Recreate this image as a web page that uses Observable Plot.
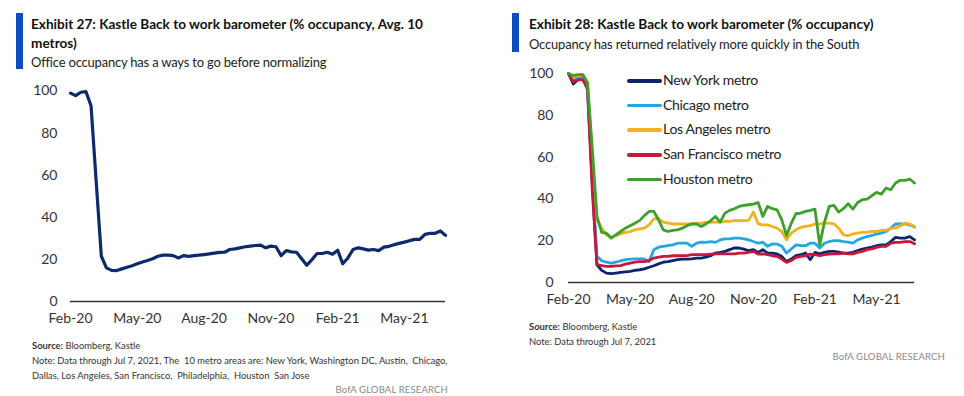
<!DOCTYPE html>
<html>
<head>
<meta charset="utf-8">
<script src="https://cdn.jsdelivr.net/npm/d3@7"></script>
<script src="https://cdn.jsdelivr.net/npm/@observablehq/plot@0.6"></script>
<style>
  html, body { margin: 0; padding: 0; background: #fff; }
  #page { position: relative; width: 964px; height: 396px; overflow: hidden; font-family: Lato, "Open Sans", sans-serif; color: #222; }
  .panel { position: absolute; top: 0; width: 482px; height: 396px; }
  .bar { position: absolute; width: 7px; background: #0b4fbf; }
  .title { position: absolute; font-weight: 700; font-size: 13.6px; line-height: 19px; color: #111; letter-spacing: 0px; }
  .sub { position: absolute; font-size: 13px; line-height: 18px; color: #222; letter-spacing: -0.2px; }
  .plot { position: absolute; }
  .foot { position: absolute; font-size: 9.4px; line-height: 15px; color: #333; }
  .brand { position: absolute; font-size: 9.6px; color: #8a8a8a; letter-spacing: 0.1px; }
  .legend { position: absolute; font-size: 14px; color: #222; }
  .legend .row { position: absolute; left: 0; height: 20px; white-space: nowrap; }
  .legend .sw { position: absolute; left: 0; top: 8px; width: 35px; height: 3.5px; border-radius: 2px; }
  .legend .lb { position: absolute; left: 36px; top: 0; letter-spacing: -0.3px; }
</style>
</head>
<body>
<div id="page">
  <div class="panel" id="p1" style="left:0">
    <div class="bar" style="left:16px; top:13px; height:56px"></div>
    <div class="title" style="left:31px; top:15px; width:400px">Exhibit 27: Kastle Back to work barometer (% occupancy, Avg. 10 metros)</div>
    <div class="sub" style="left:31px; top:53px">Office occupancy has a ways to go before normalizing</div>
    <div class="plot" id="plot1" style="left:0; top:75px"></div>
    <div class="foot" style="left:32px; top:338px; width:430px"><b>Source:</b> Bloomberg, Kastle<br>Note: Data through Jul 7, 2021, The&nbsp; 10 metro areas are: New York, Washington DC, Austin,&nbsp; Chicago, Dallas, Los Angeles, San Francisco,&nbsp; Philadelphia,&nbsp; Houston&nbsp; San Jose</div>
    <div class="brand" style="right:34px; top:384px">BofA GLOBAL RESEARCH</div>
  </div>
  <div class="panel" id="p2" style="left:482px">
    <div class="bar" style="left:30px; top:13px; height:39px"></div>
    <div class="title" style="left:47px; top:15px">Exhibit 28: Kastle Back to work barometer (% occupancy)</div>
    <div class="sub" style="left:47px; top:35px">Occupancy has returned relatively more quickly in the South</div>
    <div class="plot" id="plot2" style="left:0; top:55px"></div>
    <div class="legend" id="legend" style="left:145px; top:71px"></div>
    <div class="foot" style="left:47px; top:319px"><b>Source:</b> Bloomberg, Kastle<br>Note: Data through Jul 7, 2021</div>
    <div class="brand" style="right:19px; top:351px">BofA GLOBAL RESEARCH</div>
  </div>
</div>
<script>
// ---- Data (weekly readings, Feb 12 2020 – Jul 7 2021) ----
const startDate = "2020-02-12";
const nWeeks = 74;

const tickDates = ["2020-02-12", "2020-05-13", "2020-08-12", "2020-11-11", "2021-02-10", "2021-05-12"];
const tickLabels = ["Feb-20", "May-20", "Aug-20", "Nov-20", "Feb-21", "May-21"];
const yTicks = [0, 20, 40, 60, 80, 100];

const avg10 = [99, 97.8, 99.4, 99.7, 93, 57, 21.5, 16, 14.8, 14.7,
  15.5, 16.3, 17, 17.9, 18.8, 19.5, 20.3, 21.5, 22, 22,
  21.8, 20.7, 21.8, 21.4, 21.8, 22, 22.3, 22.6, 23, 23.3,
  23.4, 24.7, 25, 25.5, 26, 26.3, 26.6, 26.8, 25.5, 26.3,
  26, 21.8, 24.2, 23.6, 23.4, 20.3, 17.2, 19.9, 22.8, 22.8,
  23.4, 22.5, 24.4, 17.9, 20.7, 24.7, 25.5, 25, 24.4, 24.7,
  24.2, 25.8, 26.2, 27, 27.6, 28.2, 28.9, 29.5, 29.5, 31.9,
  32.4, 32.4, 33.5, 31.4];

const seriesNames = ["New York metro", "Chicago metro", "Los Angeles metro", "San Francisco metro", "Houston metro"];
const seriesColors = ["#0c246b", "#23a7e3", "#f2b120", "#c8173c", "#3ba12a"];

const newYork = [100, 95, 97, 98, 95, 48, 8.5, 5.8, 4.5, 4.2,
  4.5, 4.8, 5.1, 5.3, 5.8, 6.1, 6.5, 7.3, 8, 8.9,
  9.7, 10, 10.5, 10.9, 11.2, 11.2, 11.3, 11.7, 11.7, 12.1,
  12.8, 14.1, 14.4, 14.9, 15.7, 16.5, 16.5, 16, 15.2, 15.7,
  14.4, 15.7, 14.1, 14.1, 13.7, 12.5, 10, 11.2, 12.9, 13.3,
  14.1, 10.9, 14.4, 13.7, 14.4, 14.9, 14.9, 14.5, 14.1, 14.1,
  14.4, 15.3, 16, 16.5, 16.9, 17.6, 18, 18, 19.6, 21.6,
  21.2, 21.2, 22, 20.4];

const chicago = [100, 97, 98, 98, 92, 50, 12.5, 10.4, 9.7, 9.3,
  9.7, 10.4, 10.9, 11.2, 11.3, 11.3, 11.3, 10, 15.7, 16.9,
  17.3, 17.7, 18, 18.8, 18.8, 18.8, 17.3, 18.8, 19.3, 19.2,
  19.6, 19.2, 20.4, 20.9, 20.9, 21.2, 21.2, 20.9, 20.4, 19.6,
  18.8, 19.2, 17.3, 18.5, 18.4, 17.3, 14.1, 16, 18, 17.7,
  17.6, 18.8, 18.8, 16.5, 18.8, 19.6, 20, 20, 19.6, 19.3,
  18.8, 20.4, 21.2, 22, 22.5, 23.2, 23.6, 24.4, 26, 28,
  28, 28, 27.6, 26.5];

const losAngeles = [100, 98, 99, 99.5, 96, 58, 30, 26, 22.8, 21.7,
  22.4, 23.3, 24, 24.4, 25.2, 25.6, 26, 27.6, 30.4, 30.4,
  28.9, 28.4, 28, 28, 28, 28, 28.1, 28.4, 28.4, 28.8,
  28.8, 28.9, 28.9, 29.2, 29.2, 29.6, 29.6, 29.6, 29.7, 33.7,
  28.1, 27.6, 27.6, 26.8, 26, 24.4, 20.4, 23.6, 25.2, 26.4,
  26.8, 27.2, 28, 28, 28.4, 28.4, 28.1, 26, 22.8, 22.4,
  23.3, 23.6, 24, 24.1, 24.4, 24.4, 24.9, 24.9, 26, 26,
  27.2, 28.4, 28, 26.8];

const sanFrancisco = [100, 96, 97, 97, 93, 45, 8.5, 8.1, 7.7, 7.7,
  8, 8.1, 8.8, 9.3, 9.7, 10, 10, 10.5, 11.7, 12.1,
  12.5, 12.5, 12.8, 12.8, 12.9, 12.9, 13.3, 13.3, 13.3, 13.3,
  13.6, 13.7, 13.7, 13.7, 13.7, 13.7, 14.1, 14.1, 14.4, 14.9,
  13.6, 13.7, 13.3, 12.8, 12.5, 11.2, 9.6, 10.5, 12, 12.5,
  12.8, 13.6, 13.3, 12.8, 13.3, 13.6, 13.7, 13.7, 14.1, 13.7,
  13.7, 14.4, 14.9, 15.7, 16.1, 16.8, 17.3, 17.3, 18.8, 19.2,
  19.2, 19.6, 19.6, 18.5];

const houston = [100, 99, 99.5, 99.5, 95.5, 65, 31.6, 24, 23.6, 21.2,
  22.8, 24.4, 26, 27.2, 28.4, 29.6, 32, 34, 34, 30,
  25.2, 24.4, 24.9, 25.2, 26, 27.2, 28, 28, 26.8, 28,
  29.6, 31.6, 28.9, 33.2, 34.5, 35.3, 36.4, 36.9, 37.2, 37.5,
  38.3, 31.6, 36.4, 35.3, 34.8, 30, 22.5, 28.4, 32.9, 33.2,
  34, 34.5, 35.1, 18, 28.8, 36.4, 36.9, 33.7, 35.3, 37.7,
  35.1, 38.3, 39.6, 39.9, 41.5, 43.1, 42.3, 45.2, 44.4, 47.6,
  48.9, 48.9, 49.5, 47.6];

// ---- Build tables ----
const parse = d3.utcParse("%Y-%m-%d");
const dates = d3.range(nWeeks).map(i => d3.utcDay.offset(parse(startDate), 7 * i));
const ticks = tickDates.map(parse);
const labelOf = new Map(ticks.map((t, i) => [+t, tickLabels[i]]));
const xDomain = [dates[0], dates[dates.length - 1]];

const avgData = dates.map((d, i) => ({date: d, value: avg10[i]}));
const seriesValues = [newYork, chicago, losAngeles, sanFrancisco, houston];
const metroData = seriesNames.flatMap((name, s) => dates.map((d, i) => ({date: d, value: seriesValues[s][i], metro: name})));

const axisFont = {fontSize: 14, fill: "#333"};

function common(opts) {
  return {
    style: {fontFamily: "Lato, 'Open Sans', sans-serif", fontSize: "14px", color: "#333", background: "transparent", overflow: "visible"},
    x: {type: "utc", domain: xDomain},
    y: {domain: [0, 100]},
    ...opts
  };
}

const plot1 = Plot.plot(common({
  width: 480, height: 256,
  marginLeft: 70, marginRight: 35, marginTop: 15.5, marginBottom: 30,
  marks: [
    Plot.axisY({ticks: yTicks, tickSize: 0, tickPadding: 13, label: null, ...axisFont}),
    Plot.axisX({ticks: ticks, tickFormat: d => labelOf.get(+d), tickSize: 0, tickPadding: 12, label: null, ...axisFont}),
    Plot.ruleY([0], {stroke: "#333", strokeWidth: 1.6}),
    Plot.lineY(avgData, {x: "date", y: "value", stroke: "#0c2a6c", strokeWidth: 3.2, strokeLinejoin: "round", strokeLinecap: "round"})
  ]
}));
document.getElementById("plot1").appendChild(plot1);

const plot2 = Plot.plot(common({
  width: 482, height: 257,
  marginLeft: 86, marginRight: 50, marginTop: 18, marginBottom: 30,
  color: {domain: seriesNames, range: seriesColors},
  marks: [
    Plot.axisY({ticks: yTicks, tickSize: 0, tickPadding: 15, label: null, ...axisFont}),
    Plot.axisX({ticks: ticks, tickFormat: d => labelOf.get(+d), tickSize: 0, tickPadding: 12, label: null, ...axisFont}),
    Plot.ruleY([0], {stroke: "#333", strokeWidth: 1.6}),
    Plot.lineY(metroData, {x: "date", y: "value", z: "metro", stroke: "metro", strokeWidth: 2.8, strokeLinejoin: "round", strokeLinecap: "round"})
  ]
}));
document.getElementById("plot2").appendChild(plot2);

// ---- Legend (HTML overlay) ----
const legend = document.getElementById("legend");
seriesNames.forEach((name, i) => {
  const row = document.createElement("div");
  row.className = "row";
  row.style.top = (i * 24.7) + "px";
  row.innerHTML = `<span class="sw" style="background:${seriesColors[i]}"></span><span class="lb">${name}</span>`;
  legend.appendChild(row);
});
</script>
</body>
</html>
